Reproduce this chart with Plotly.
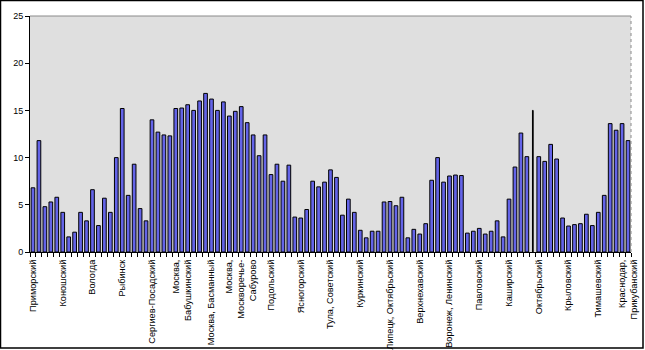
import plotly.graph_objects as go

# Values per district, in display order (101 districts)
values = [
    6.8, 11.8, 4.8, 5.3, 5.8, 4.2, 1.6, 2.1, 4.2, 3.3,
    6.6, 2.8, 5.7, 4.2, 10.0, 15.2, 6.0, 9.3, 4.6, 3.3,
    14.0, 12.7, 12.4, 12.3, 15.2, 15.25, 15.6, 15.0, 16.0, 16.8,
    16.2, 15.0, 15.9, 14.4, 14.9, 15.4, 13.7, 12.4, 10.2, 12.4,
    8.2, 9.3, 7.5, 9.2, 3.7, 3.6, 4.5, 7.5, 6.9, 7.4,
    8.7, 7.9, 3.9, 5.6, 4.2, 2.3, 1.5, 2.2, 2.2, 5.3,
    5.35, 4.9, 5.8, 1.5, 2.4, 1.9, 3.0, 7.6, 10.0, 7.4,
    8.05, 8.15, 8.1, 2.0, 2.2, 2.5, 1.9, 2.2, 3.3, 1.6,
    5.6, 9.0, 12.6, 10.1, 15.0, 10.1, 9.6, 11.4, 9.85, 3.6,
    2.75, 2.9, 3.0, 4.0, 2.8, 4.2, 6.0, 13.6, 12.9, 13.6,
    11.8,
]

# District labels shown on the axis (every fifth district)
tick_labels = [
    "Приморский", "Коношский", "Вологда", "Рыбинск", "Сергиев-Посадский",
    "Москва,<br>Бабушкинский", "Москва, Басманный",
    "Москва,<br>Москворечье-<br>Сабурово", "Подольский", "Ясногорский",
    "Тула, Советский", "Куркинский", "Липецк, Октябрьский", "Верхнехавский",
    "Воронеж, Ленинский", "Павловский", "Каширский", "Октябрьский",
    "Крыловский", "Тимашевский", "Краснодар,<br>Прикубанский",
]

positions = list(range(1, len(values) + 1))
tick_positions = positions[::5]

# One district is drawn as a thin dark bar
thin_index = 84
widths = [0.62] * len(values)
colors = ["#6464E8"] * len(values)
widths[thin_index] = 0.12
colors[thin_index] = "#000000"

fig = go.Figure(
    go.Bar(
        x=positions,
        y=values,
        width=widths,
        marker=dict(color=colors, line=dict(color="black", width=1)),
        hoverinfo="x+y",
    )
)

W, H = 645, 350
ml, mr, mt, mb = 30, 14, 16, 98
pw, ph = W - ml - mr, H - mt - mb

fig.update_layout(
    width=W,
    height=H,
    margin=dict(l=ml, r=mr, t=mt, b=mb, pad=0, autoexpand=False),
    paper_bgcolor="white",
    plot_bgcolor="#DFDFDF",
    showlegend=False,
    font=dict(family="Liberation Sans, Arial, sans-serif", size=9, color="black"),
)

fig.update_xaxes(
    range=[0.5, len(values) + 0.5],
    tickmode="array",
    tickvals=tick_positions,
    ticktext=tick_labels,
    tickangle=-90,
    ticks="",
    ticklabelstandoff=3,
    showgrid=False,
    zeroline=False,
    showline=True,
    linecolor="black",
    linewidth=1,
    automargin=False,
    minor=dict(ticks="outside", tick0=0.5, dtick=1, ticklen=4,
               tickcolor="black", tickwidth=1, showgrid=False),
    tickfont=dict(size=9.2),
)

fig.update_yaxes(
    range=[0, 25],
    tickmode="linear",
    tick0=0,
    dtick=5,
    ticks="outside",
    ticklen=4,
    tickcolor="black",
    showgrid=False,
    zeroline=False,
    showline=True,
    linecolor="black",
    linewidth=1,
    automargin=False,
    tickfont=dict(size=9),
)

# Plot-area top edge, dotted right edge, and the outer chart frame
fig.add_shape(type="line", xref="paper", yref="paper", x0=0, x1=1, y0=1, y1=1,
              line=dict(color="#8A8A8A", width=1))
fig.add_shape(type="line", xref="paper", yref="paper", x0=1, x1=1, y0=0, y1=1,
              line=dict(color="#8A8A8A", width=1, dash="dot"))
fig.add_shape(type="rect", xref="paper", yref="paper",
              x0=-(ml - 0.5) / pw, x1=1 + (mr - 2) / pw,
              y0=-(mb - 2) / ph, y1=1 + (mt - 0.5) / ph,
              line=dict(color="black", width=1.5), layer="below")

fig.write_html("out.html")
